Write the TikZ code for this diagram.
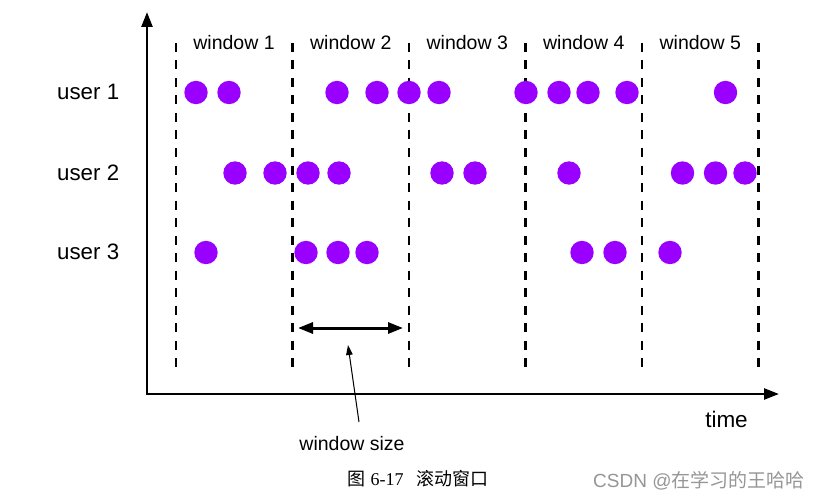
\documentclass[tikz,border=0pt]{standalone}
\usepackage{fontspec}
\setmainfont{Liberation Sans}
\newfontfamily\cjk{Noto Sans CJK SC}
\newfontfamily\capserif{Liberation Serif}
\usetikzlibrary{arrows.meta}
\definecolor{dotpurple}{RGB}{153,0,255}
\definecolor{wmgray}{RGB}{150,150,150}
\begin{document}
\begin{tikzpicture}[x=1pt,y=-1pt,
  dot/.style={circle,fill=dotpurple,minimum size=23.4pt,inner sep=0pt},
  winline/.style={line width=2.3pt,dash pattern=on 9pt off 8.5pt},
  wlbl/.style={font=\fontsize{19.5}{21}\selectfont,anchor=base,inner sep=0pt},
  ulbl/.style={font=\fontsize{22.3}{24}\selectfont,anchor=base west,inner sep=0pt},
]
\path[use as bounding box, fill=white] (0,0) rectangle (819,500);

% axes
\coordinate (ytop) at (147,12);
\coordinate (O) at (147,394);
\coordinate (xend) at (779,394);
\draw[line width=2.5pt,{Triangle[width=11pt,length=15pt]}-{Triangle[width=11pt,length=15pt]}] (ytop) -- (O) -- (xend);

% window borders
\foreach \x [count=\i] in {176,292.5,409,525.5,642,758.5}{
  \coordinate (top\i) at (\x,43);
  \coordinate (bot\i) at (\x,375);
  \draw[winline] (top\i) -- (bot\i);
}

% window labels
\foreach \x [count=\i] in {234,350.75,467.25,583.75,700.25}{
  \node[wlbl] (w\i) at (\x,49.5) {window \i};
}

% user labels
\node[ulbl] (u1) at (57,99.3) {user 1};
\node[ulbl] (u2) at (57,180) {user 2};
\node[ulbl] (u3) at (57,259.3) {user 3};

% events
\foreach \x [count=\i] in {196,229,337,377,409,439,526,559,588,627,725.5}{
  \node[dot] (a\i) at (\x,92.5) {};
}
\foreach \x [count=\i] in {235,275,308,339,442,475,569,682.5,715.5,745}{
  \node[dot] (b\i) at (\x,173) {};
}
\foreach \x [count=\i] in {206,306,338,367,582,615,670}{
  \node[dot] (c\i) at (\x,252.5) {};
}

% window size
\coordinate (wsL) at (298,328);
\coordinate (wsR) at (403,328);
\draw[line width=3pt,{Triangle[width=11pt,length=15pt]}-{Triangle[width=11pt,length=15pt]}] (wsL) -- (wsR);
\coordinate (pt) at (348,345);
\coordinate (pb) at (359,422);
\draw[line width=1pt,-{Triangle[width=6.5pt,length=10pt]}] (pb) -- (pt);
\node[wlbl] (ws) at (352,450) {window size};

\node[font=\fontsize{22.5}{24}\selectfont,anchor=base,inner sep=0pt] (time) at (726.5,427.7) {time};

% caption
\node[font=\fontsize{18}{20}\selectfont,anchor=base west,inner sep=0pt] (cap) at (347,485)
  {{\cjk 图}\hspace{0.3em}{\capserif 6-17}\hspace{0.7em}{\cjk 滚动窗口}};
\node[font=\fontsize{19}{21}\selectfont,anchor=base west,inner sep=0pt,text=wmgray] (wm) at (593,487)
  {CSDN @{\cjk 在学习的王哈哈}};
\end{tikzpicture}
\end{document}
